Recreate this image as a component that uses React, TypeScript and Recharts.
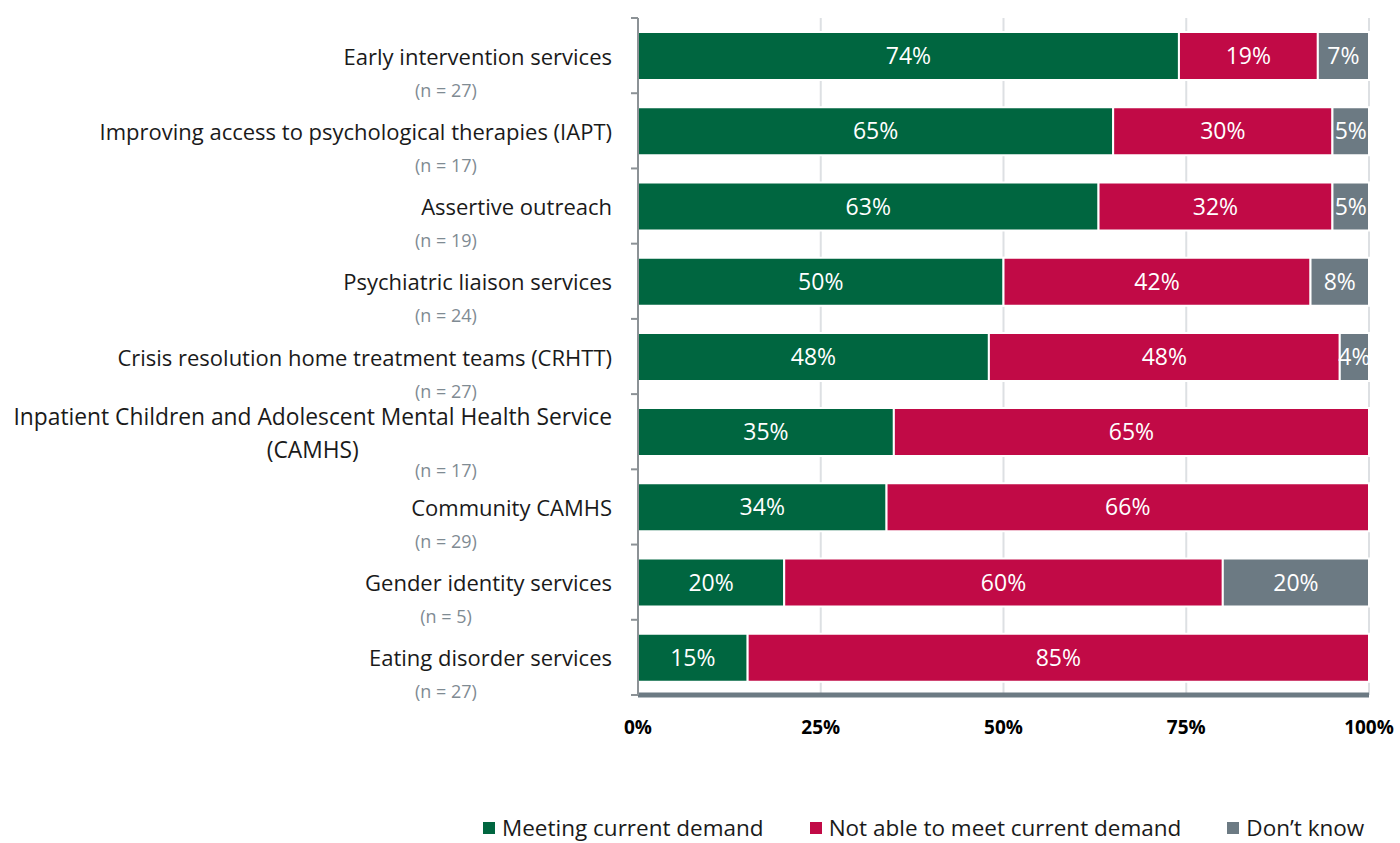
import { Bar, BarChart, CartesianGrid, LabelList, Legend, XAxis, YAxis } from "recharts";

const categories = [
  "Early intervention services",
  "Improving access to psychological therapies (IAPT)",
  "Assertive outreach",
  "Psychiatric liaison services",
  "Crisis resolution home treatment teams (CRHTT)",
  "Inpatient Children and Adolescent Mental Health Service (CAMHS)",
  "Community CAMHS",
  "Gender identity services",
  "Eating disorder services",
];
const sampleSizes = [27, 17, 19, 24, 27, 17, 29, 5, 27];
const meeting = [74, 65, 63, 50, 48, 35, 34, 20, 15];
const notMeeting = [19, 30, 32, 42, 48, 65, 66, 60, 85];
const dontKnow = [7, 5, 5, 8, 4, 0, 0, 20, 0];
const xTicks = [0, 25, 50, 75, 100];
const seriesOrder = ["meeting", "notMeeting", "dontKnow"];

const rows = categories.map((name, i) => ({
  name,
  n: sampleSizes[i],
  meeting: meeting[i],
  notMeeting: notMeeting[i],
  dontKnow: dontKnow[i],
}));

const FONT = "'Segoe UI', 'Open Sans', sans-serif";
const WIDTH = 1400;
const HEIGHT = 843;
const PLOT_LEFT = 638;
const PLOT_TOP = 18;
const PLOT_BOTTOM = 695;
const LEGEND_H = 30;
const STEP = (PLOT_BOTTOM - PLOT_TOP) / categories.length;
const LABEL_SIZE = 22;

const GREEN = "#006640";
const CRIMSON = "#c10a46";
const GREY = "#6c7a83";

function wrap(text: string, maxChars = 56) {
  const lines: string[] = [];
  let line = "";
  for (const word of text.split(" ")) {
    const next = line ? `${line} ${word}` : word;
    if (next.length > maxChars && line) { lines.push(line); line = word; } else line = next;
  }
  if (line) lines.push(line);
  return lines;
}

function textWidth(text: string, font: string) {
  const ctx = document.createElement("canvas").getContext("2d");
  if (!ctx) return text.length * 10;
  ctx.font = font;
  return ctx.measureText(text).width;
}

function CategoryTick(props: any) {
  const { y, payload, index } = props;
  const right = PLOT_LEFT - 26;
  const lines = wrap(String(payload.value));
  const n = sampleSizes[index];
  const tickX1 = PLOT_LEFT - 7;
  const boundary = (yy: number) => <line x1={tickX1} x2={PLOT_LEFT} y1={yy} y2={yy} stroke="#8c9296" strokeWidth={2} />;
  let label;
  if (lines.length === 1) {
    label = <text x={right} y={y} textAnchor="end" dominantBaseline="central" fontSize={LABEL_SIZE} fill="#1a1a1a" fontFamily={FONT}>{lines[0]}</text>;
  } else {
    const size = LABEL_SIZE + 0.8;
    const w = textWidth(lines[0], `${size}px 'Open Sans'`);
    const cx = right - w / 2;
    label = <text x={cx} y={y - 16} textAnchor="middle" dominantBaseline="central" fontSize={size} fill="#1a1a1a" fontFamily={FONT}>
      {lines.map((l, k) => <tspan key={k} x={cx} dy={k === 0 ? 0 : 33}>{l}</tspan>)}
    </text>;
  }
  const nY = lines.length === 1 ? y + 34 : y + 38;
  return <g>
    {boundary(y - STEP / 2)}
    {index === categories.length - 1 && boundary(y + STEP / 2)}
    {label}
    <text x={446} y={nY} textAnchor="middle" dominantBaseline="central" fontSize={18} fill="#7f8b93" fontFamily={FONT}>{`(n = ${n})`}</text>
  </g>;
}

function pct(value: any) {
  const v = Number(value);
  return v > 0 ? `${v}%` : "";
}

function LegendContent(props: any) {
  const items = [...(props.payload ?? [])].sort((a: any, b: any) => seriesOrder.indexOf(a.dataKey) - seriesOrder.indexOf(b.dataKey));
  return <div style={{ display: "flex", gap: 46, paddingLeft: 483, fontFamily: FONT, fontSize: 22.5, color: "#1a1a1a", lineHeight: `${LEGEND_H}px`, marginTop: 0 }}>
    {items.map((item: any) => <span key={item.value} style={{ display: "flex", alignItems: "center", whiteSpace: "nowrap" }}>
      <span style={{ display: "inline-block", width: 12, height: 12, background: item.color, marginRight: 7 }} />
      {item.value}
    </span>)}
  </div>;
}

export default function App() {
  return <div style={{ position: "absolute", left: 0, top: 0, width: WIDTH, height: HEIGHT, background: "#fff", overflow: "hidden" }}>
    <BarChart width={WIDTH} height={HEIGHT} data={rows} layout="vertical" barSize={48}
      margin={{ top: PLOT_TOP, right: 31, bottom: 0, left: 0 }}>
      <CartesianGrid horizontal={false} stroke="#dde0e3" strokeWidth={2} />
      <XAxis type="number" domain={[0, 100]} ticks={xTicks} tickFormatter={(v) => `${v}%`}
        axisLine={{ stroke: GREY, strokeWidth: 5 }} tickLine={false} tickMargin={20}
        height={HEIGHT - PLOT_BOTTOM - LEGEND_H}
        tick={{ fill: "#000", fontSize: 19, fontWeight: 700, fontFamily: FONT }} />
      <YAxis type="category" dataKey="name" width={PLOT_LEFT} tickLine={false}
        axisLine={{ stroke: "#8c9296", strokeWidth: 2 }} tick={<CategoryTick />} interval={0} />
      <Legend verticalAlign="bottom" align="left" height={LEGEND_H} content={<LegendContent />} />
      <Bar dataKey="meeting" name="Meeting current demand" stackId="a" fill={GREEN} stroke="#fff" strokeWidth={2} isAnimationActive={false}>
        <LabelList dataKey="meeting" position="center" formatter={pct} fill="#fff" fontSize={23} fontFamily={FONT} />
      </Bar>
      <Bar dataKey="notMeeting" name="Not able to meet current demand" stackId="a" fill={CRIMSON} stroke="#fff" strokeWidth={2} isAnimationActive={false}>
        <LabelList dataKey="notMeeting" position="center" formatter={pct} fill="#fff" fontSize={23} fontFamily={FONT} />
      </Bar>
      <Bar dataKey="dontKnow" name="Don’t know" stackId="a" fill={GREY} stroke="#fff" strokeWidth={2} isAnimationActive={false}>
        <LabelList dataKey="dontKnow" position="center" formatter={pct} fill="#fff" fontSize={23} fontFamily={FONT} />
      </Bar>
    </BarChart>
  </div>;
}
